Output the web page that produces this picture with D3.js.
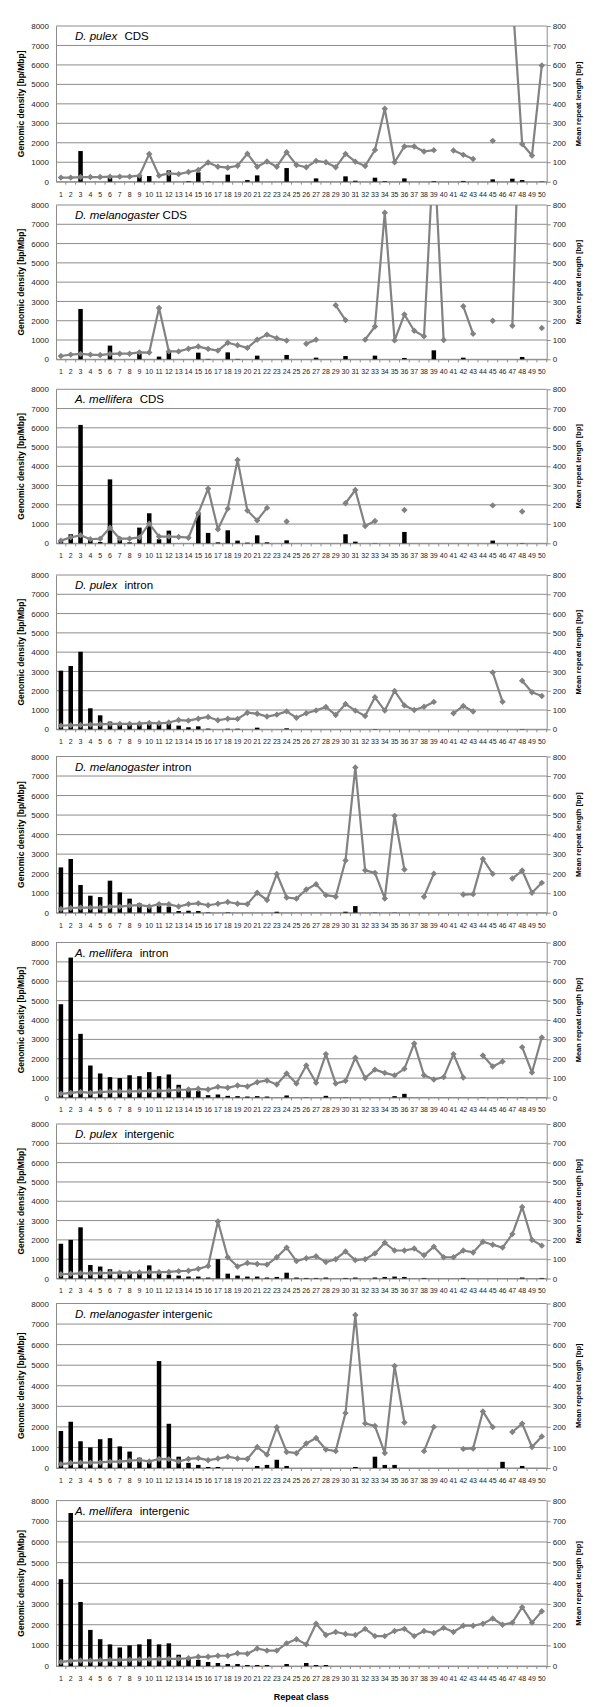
<!DOCTYPE html>
<html>
<head>
<meta charset="utf-8">
<script src="https://cdnjs.cloudflare.com/ajax/libs/d3/7.8.5/d3.min.js"></script>
<style>
  body { margin: 0; background: #fff; }
  svg { display: block; }
  text { font-family: "Liberation Sans", Arial, sans-serif; }
</style>
</head>
<body>
<div id="chart"></div>
<script>
// repeat classes (x categories)
const repeatClasses = [1,2,3,4,5,6,7,8,9,10,11,12,13,14,15,16,17,18,19,20,21,22,23,24,25,
  26,27,28,29,30,31,32,33,34,35,36,37,38,39,40,41,42,43,44,45,46,47,48,49,50];

const densityTicks = [0,1000,2000,3000,4000,5000,6000,7000,8000];
const lengthTicks = [0,100,200,300,400,500,600,700,800];

// genomic density [bp/Mbp] (bars) and mean repeat length [bp] (line), null = no value
const pulexCdsDensity = [0,0,1575,0,0,250,0,0,300,290,0,580,0,30,480,20,0,360,0,85,325,0,0,700,0,
  0,170,0,0,275,50,0,205,30,0,170,0,0,30,0,0,40,0,0,120,0,155,85,0,15];
const pulexCdsLength = [21,21,24,24,24,26,26,26,31,142,31,43,39,50,60,99,77,72,82,144,77,104,77,151,86,
  74,107,100,74,143,103,81,163,375,100,181,181,155,162,null,160,138,117,null,210,null,950,194,135,597];

const melCdsDensity = [0,0,2610,0,0,710,0,0,300,0,140,400,0,0,345,20,0,360,20,0,190,0,0,225,0,
  0,85,0,0,170,0,0,190,0,0,70,0,0,465,0,0,85,0,0,0,0,0,120,0,0];
const melCdsLength = [17,24,28,24,22,28,29,29,36,35,266,41,41,55,66,54,45,86,73,59,102,128,109,97,null,
  81,102,null,280,203,null,102,170,760,98,232,148,119,1100,100,null,275,132,null,200,null,174,1700,null,162];

const amelCdsDensity = [170,470,6150,210,70,3320,170,50,815,1560,210,660,0,0,1590,540,50,675,140,35,415,50,0,155,0,
  0,0,0,0,470,85,0,10,0,0,590,0,0,0,0,0,0,0,0,140,0,0,15,0,0];
const amelCdsLength = [14,31,42,21,24,81,24,24,31,102,35,35,33,29,156,284,73,180,433,170,119,184,null,113,null,
  null,null,null,null,208,277,90,116,null,null,173,null,null,null,null,null,null,null,null,197,null,null,165,null,null];

const pulexIntronDensity = [3040,3280,4020,1090,725,400,295,310,295,345,310,310,190,105,155,35,0,30,30,0,85,0,0,50,0,
  0,0,0,0,0,0,0,15,0,0,0,0,0,0,0,0,0,0,0,0,0,0,15,0,0];
const pulexIntronLength = [19,21,22,24,26,28,28,28,29,33,31,35,48,45,55,64,47,55,54,86,81,66,76,93,60,
  83,98,116,74,131,97,69,166,97,199,124,100,117,142,null,83,121,92,null,295,143,null,252,192,173];

const melIntronDensity = [2320,2750,1420,870,800,1640,1040,720,480,275,340,310,85,100,85,20,0,20,0,0,0,0,50,0,0,
  0,0,0,0,50,340,0,10,0,10,0,0,0,0,0,0,0,0,0,0,0,0,0,0,0];
const melIntronLength = [19,24,26,26,27,31,31,36,39,32,44,43,32,44,48,38,46,55,46,44,102,65,198,78,72,
  119,146,90,82,267,744,217,204,73,496,221,null,82,200,null,null,93,95,275,199,null,175,216,102,153];

const amelIntronDensity = [4815,7220,3285,1650,1240,1050,1000,1150,1100,1310,1100,1190,655,380,330,120,155,85,70,50,70,50,0,105,0,
  10,0,85,0,10,0,0,0,0,70,190,0,0,0,0,0,0,0,10,0,10,0,10,0,0];
const amelIntronLength = [19,24,29,24,28,31,31,31,33,34,34,36,40,41,45,41,55,50,62,57,79,88,67,124,72,
  165,76,224,72,86,205,101,144,127,114,148,279,115,93,105,224,103,null,217,160,186,null,260,129,310];

const pulexInterDensity = [1800,2000,2650,700,620,480,300,250,300,680,300,200,150,100,100,50,1000,250,150,100,100,50,80,300,50,
  30,30,50,0,30,50,0,50,80,100,80,0,30,0,0,0,30,0,0,0,0,0,50,0,30];
const pulexInterLength = [22,24,27,27,28,29,30,30,31,32,33,34,38,40,50,65,295,110,62,80,75,72,110,160,90,
  105,115,85,100,140,95,100,130,185,145,145,155,120,165,110,110,145,135,190,175,160,230,370,200,170];

const melInterDensity = [1800,2250,1300,1000,1400,1450,1050,800,500,300,5200,2150,550,250,150,50,50,0,0,0,100,150,400,100,0,
  0,0,0,0,0,50,0,550,150,150,0,0,0,0,0,0,0,0,0,0,300,0,100,0,0];
const melInterLength = [19,24,26,26,27,31,31,36,39,32,44,43,32,44,48,38,46,55,46,44,102,65,198,78,72,
  119,146,90,82,267,744,217,204,73,496,221,null,82,200,null,null,93,95,275,199,null,175,216,102,153];

const amelInterDensity = [4200,7400,3100,1750,1300,1050,900,1000,1050,1300,1050,1100,550,350,300,200,150,100,100,50,50,50,0,100,0,
  150,50,50,0,0,0,0,0,0,0,0,0,0,0,0,0,0,0,0,0,0,0,0,0,0];
const amelInterLength = [20,25,27,27,28,30,30,31,32,33,34,35,35,38,45,45,50,50,62,60,85,75,75,110,130,
  105,205,150,165,155,150,180,145,145,170,180,145,170,160,185,165,195,195,205,230,200,210,285,210,265];

const panels = [
  { species: "D. pulex", region: "CDS", density: pulexCdsDensity, length: pulexCdsLength },
  { species: "D. melanogaster", region: "CDS", density: melCdsDensity, length: melCdsLength },
  { species: "A. mellifera", region: "CDS", density: amelCdsDensity, length: amelCdsLength },
  { species: "D. pulex", region: "intron", density: pulexIntronDensity, length: pulexIntronLength },
  { species: "D. melanogaster", region: "intron", density: melIntronDensity, length: melIntronLength },
  { species: "A. mellifera", region: "intron", density: amelIntronDensity, length: amelIntronLength },
  { species: "D. pulex", region: "intergenic", density: pulexInterDensity, length: pulexInterLength },
  { species: "D. melanogaster", region: "intergenic", density: melInterDensity, length: melInterLength },
  { species: "A. mellifera", region: "intergenic", density: amelInterDensity, length: amelInterLength }
];

// layout
const width = 600, height = 1707;
const plotLeft = 56, plotRight = 546.7;
const panelTops = [26, 205, 389.3, 575, 756.5, 942.5, 1124, 1303.5, 1500.6];
const panelHeights = [155.7, 154.3, 154, 154.3, 156.2, 155, 154.5, 164.5, 165.5];

const gridColor = "#8c8c8c";
const lineColor = "#828282";
const textColor = "#222";

const svg = d3.select("#chart").append("svg")
  .attr("width", width)
  .attr("height", height);

const x = d3.scaleBand()
  .domain(repeatClasses)
  .range([plotLeft, plotRight]);

panels.forEach((p, i) => {
  const top = panelTops[i];
  const bottom = top + panelHeights[i];

  const yLeft = d3.scaleLinear().domain([0, 8000]).range([bottom, top]);
  const yRight = d3.scaleLinear().domain([0, 800]).range([bottom, top]);

  const g = svg.append("g").attr("class", "panel");

  // horizontal gridlines
  g.selectAll(".grid")
    .data(densityTicks)
    .enter().append("line")
    .attr("x1", plotLeft)
    .attr("x2", plotRight)
    .attr("y1", d => yLeft(d))
    .attr("y2", d => yLeft(d))
    .attr("stroke", gridColor)
    .attr("stroke-width", 1);

  // left axis
  const leftAxis = g.append("g")
    .attr("transform", `translate(${plotLeft},0)`)
    .call(d3.axisLeft(yLeft).tickValues(densityTicks).tickFormat(d3.format("d")).tickSize(0).tickPadding(7));
  leftAxis.select(".domain").attr("stroke", gridColor);
  leftAxis.selectAll("text").attr("font-size", 8).attr("fill", textColor)
    .style("font-family", "'Liberation Sans', Arial, sans-serif");

  // right axis
  const rightAxis = g.append("g")
    .attr("transform", `translate(${plotRight},0)`)
    .call(d3.axisRight(yRight).tickValues(lengthTicks).tickFormat(d3.format("d")).tickSize(4).tickSizeOuter(0).tickPadding(2));
  rightAxis.select(".domain").attr("stroke", gridColor);
  rightAxis.selectAll("line").attr("stroke", gridColor);
  rightAxis.selectAll("text").attr("font-size", 8).attr("fill", textColor)
    .style("font-family", "'Liberation Sans', Arial, sans-serif");

  // bottom axis, ticks between categories
  const bottomAxis = g.append("g")
    .attr("transform", `translate(0,${bottom})`)
    .call(d3.axisBottom(x).tickSize(0).tickSizeOuter(0).tickPadding(10));
  bottomAxis.select(".domain").attr("stroke", gridColor);
  bottomAxis.selectAll("text").attr("font-size", 7).attr("fill", textColor)
    .style("font-family", "'Liberation Sans', Arial, sans-serif");
  g.selectAll(".xtick")
    .data(repeatClasses)
    .enter().append("line")
    .attr("x1", d => x(d) + x.bandwidth())
    .attr("x2", d => x(d) + x.bandwidth())
    .attr("y1", bottom)
    .attr("y2", bottom + 3)
    .attr("stroke", gridColor);

  // density bars
  const barW = 4.5;
  g.selectAll(".bar")
    .data(repeatClasses.map((c, k) => ({ c: c, v: p.density[k] })).filter(d => d.v > 0))
    .enter().append("rect")
    .attr("x", d => x(d.c) + x.bandwidth() / 2 - barW / 2)
    .attr("width", barW)
    .attr("y", d => yLeft(d.v))
    .attr("height", d => bottom - yLeft(d.v))
    .attr("fill", "#000");

  // mean repeat length line, clipped to plot area
  const clipId = "clip" + i;
  g.append("clipPath").attr("id", clipId)
    .append("rect")
    .attr("x", plotLeft)
    .attr("y", top)
    .attr("width", plotRight - plotLeft)
    .attr("height", bottom - top + 4);

  const pts = repeatClasses.map((c, k) => ({ c: c, v: p.length[k] }));
  const line = d3.line()
    .defined(d => d.v != null)
    .x(d => x(d.c) + x.bandwidth() / 2)
    .y(d => yRight(d.v));

  const lg = g.append("g").attr("clip-path", `url(#${clipId})`);
  lg.append("path")
    .datum(pts)
    .attr("fill", "none")
    .attr("stroke", lineColor)
    .attr("stroke-width", 2.2)
    .attr("stroke-linejoin", "round")
    .attr("d", line);

  lg.selectAll(".marker")
    .data(pts.filter(d => d.v != null && d.v <= 800))
    .enter().append("path")
    .attr("transform", d => `translate(${x(d.c) + x.bandwidth() / 2},${yRight(d.v)})`)
    .attr("d", "M0,-3.2L3.2,0L0,3.2L-3.2,0Z")
    .attr("fill", lineColor);

  // panel title
  const title = g.append("text")
    .attr("x", 75)
    .attr("y", top + 14)
    .attr("font-size", 11.5)
    .attr("fill", "#000");
  title.append("tspan").attr("font-style", "italic").text(p.species);
  title.append("tspan")
    .attr("dx", p.species === "D. melanogaster" ? 0 : 4)
    .text(" " + p.region);

  // axis titles
  g.append("text")
    .attr("transform", `translate(24,${(top + bottom) / 2}) rotate(-90)`)
    .attr("text-anchor", "middle")
    .attr("font-size", 8.5)
    .attr("font-weight", "bold")
    .text("Genomic density [bp/Mbp]");

  g.append("text")
    .attr("transform", `translate(581,${(top + bottom) / 2}) rotate(-90)`)
    .attr("text-anchor", "middle")
    .attr("font-size", 7.5)
    .attr("font-weight", "bold")
    .text("Mean repeat length [bp]");
});

svg.append("text")
  .attr("x", (plotLeft + plotRight) / 2)
  .attr("y", 1700)
  .attr("text-anchor", "middle")
  .attr("font-size", 9)
  .attr("font-weight", "bold")
  .text("Repeat class");
</script>
</body>
</html>
